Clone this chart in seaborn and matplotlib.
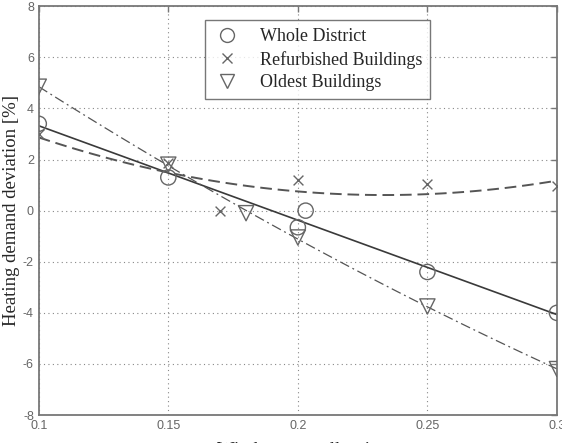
import numpy as np
import pandas as pd
import seaborn as sns
import matplotlib.pyplot as plt
from matplotlib.lines import Line2D

# values
whole_x = [0.1, 0.15, 0.2, 0.203, 0.25, 0.3]
whole_y = [3.4, 1.3, -0.65, 0.0, -2.4, -4.0]

refurb_x = [0.1, 0.15, 0.17, 0.2, 0.25, 0.3]
refurb_y = [3.0, 1.85, 0.0, 1.2, 1.05, 0.95]

oldest_x = [0.1, 0.15, 0.18, 0.2, 0.25, 0.3]
oldest_y = [4.85, 1.8, -0.1, -1.05, -3.75, -6.2]

labels = ["Whole District", "Refurbished Buildings", "Oldest Buildings"]
xticks = [0.1, 0.15, 0.2, 0.25, 0.3]
xtick_labels = ["0.1", "0.15", "0.2", "0.25", "0.3"]
yticks = [-8, -6, -4, -2, 0, 2, 4, 6, 8]

sns.set_style("white")
plt.rcParams["font.family"] = ["Liberation Serif", "DejaVu Serif"]
plt.rcParams["axes.unicode_minus"] = False

fig = plt.figure(figsize=(5.62, 4.43), dpi=100)
ax = fig.add_axes([0.069, 0.063, 0.922, 0.923])

grey = "#555555"
mk_grey = "#666666"
line_col = "#3a3a3a"

# fitted curves
sns.regplot(x=whole_x, y=whole_y, order=1, ci=None, scatter=False, ax=ax,
            line_kws=dict(color=line_col, lw=1.2, ls="-"))
sns.regplot(x=refurb_x, y=refurb_y, order=2, ci=None, scatter=False, ax=ax,
            line_kws=dict(color=grey, lw=1.4, ls=(0, (6, 3))))
sns.regplot(x=oldest_x, y=oldest_y, order=2, ci=None, scatter=False, ax=ax,
            line_kws=dict(color=grey, lw=0.9, ls=(0, (8, 3, 1.5, 3))))

# markers
sns.scatterplot(x=whole_x, y=whole_y, marker="o", s=120, fc="none", ec=mk_grey,
                linewidth=1.0, ax=ax, zorder=3)
sns.scatterplot(x=refurb_x, y=refurb_y, marker="x", s=50, color=mk_grey,
                linewidth=1.0, ax=ax, zorder=3)
sns.scatterplot(x=oldest_x, y=oldest_y, marker="v", s=120, fc="none", ec=mk_grey,
                linewidth=1.0, ax=ax, zorder=3)

ax.set_xlim(0.1, 0.3)
ax.set_ylim(-8, 8)
ax.set_xticks(xticks)
ax.set_xticklabels(xtick_labels)
ax.set_yticks(yticks)
ax.grid(True, ls=(0, (1, 3)), color="#888888", lw=0.8)
ax.tick_params(direction="in", top=True, right=True, length=4, width=1,
               colors="#777777", labelcolor="#666666", labelsize=9)
for lab in ax.get_xticklabels() + ax.get_yticklabels():
    lab.set_family("Liberation Sans")
for sp in ax.spines.values():
    sp.set_color("#777777")
    sp.set_linewidth(1.3)

ax.set_ylabel("Heating demand deviation [%]", fontsize=13.5, labelpad=2)
ax.set_xlabel("Window-to-wall ratio", fontsize=13.5, labelpad=7)

handles = [
    Line2D([], [], marker="o", ls="none", mfc="none", mec=mk_grey, ms=10, mew=1.0),
    Line2D([], [], marker="x", ls="none", color=mk_grey, ms=7, mew=1.0),
    Line2D([], [], marker="v", ls="none", mfc="none", mec=mk_grey, ms=10, mew=1.0),
]
leg = ax.legend(handles, labels, loc="upper left", bbox_to_anchor=(0.32, 0.966),
                fontsize=13, frameon=True, fancybox=False, handlelength=1.6,
                handletextpad=1.0, labelspacing=0.3, borderpad=0.45,
                borderaxespad=0)
leg.get_frame().set_edgecolor("#555555")
leg.get_frame().set_linewidth(1.0)

fig.savefig("out.png", dpi=100)
